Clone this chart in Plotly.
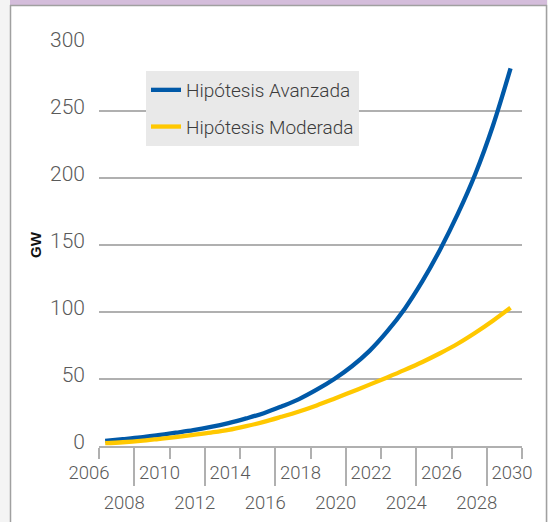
import plotly.graph_objects as go

# ---- data ----
years = list(range(2007, 2031))
avanzada = [3.9, 5.1, 6.4, 8.1, 9.9, 11.8, 14.2, 17.1, 20.6, 24.5, 29.5, 35.0,
            42.0, 50.0, 59.5, 71.0, 85.5, 102.5, 123.0, 146.5, 173.0, 203.0, 239.0, 281.8]
moderada = [2.1, 2.8, 3.8, 5.2, 6.7, 8.3, 10.0, 12.0, 14.8, 18.0, 21.8, 25.8,
            30.3, 35.3, 40.5, 45.8, 51.2, 56.8, 62.7, 69.2, 76.3, 84.5, 93.5, 103.2]
series_names = ["Hipótesis Avanzada", "Hipótesis Moderada"]
row1_labels = [2006, 2010, 2014, 2018, 2022, 2026, 2030]
row2_labels = [2008, 2012, 2016, 2020, 2024, 2028]
y_ticks = [0, 50, 100, 150, 200, 250, 300]

BLUE = "#0059a8"
YELLOW = "#ffc800"
GRID = "#b0b0b0"
TXT = "#5a5a5a"
FONT = "Roboto"

# points sit in the middle of each category slot
xpos = [y - 0.65 for y in years]

fig = go.Figure()
fig.add_trace(go.Scatter(x=xpos, y=avanzada, name=series_names[0], mode="lines",
                         line=dict(color=BLUE, width=4.3, shape="spline", smoothing=1),
                         legendgroup="a"))
fig.add_trace(go.Scatter(x=xpos, y=moderada, name=series_names[1], mode="lines",
                         line=dict(color=YELLOW, width=4.3, shape="spline", smoothing=1),
                         legendgroup="b"))
# carriers for the two rows of year labels (no visible marks)
fig.add_trace(go.Scatter(x=row1_labels, y=[None] * len(row1_labels), xaxis="x2", yaxis="y",
                         mode="lines", showlegend=False, hoverinfo="skip"))
fig.add_trace(go.Scatter(x=row2_labels, y=[None] * len(row2_labels), xaxis="x3", yaxis="y",
                         mode="lines", showlegend=False, hoverinfo="skip"))

L, R, T, B = 99, 26, 44, 76
W, H = 548, 522
pw, ph = W - L - R, H - T - B


def px(xp):
    return (xp - L) / pw


def py(yp):
    return (H - B - yp) / ph


shapes = [
    dict(type="rect", xref="paper", yref="paper", x0=px(0), x1=px(10), y0=py(H), y1=py(0),
         fillcolor="#f4f4f4", line=dict(width=0), layer="below"),
    dict(type="rect", xref="paper", yref="paper", x0=px(547), x1=px(W), y0=py(H), y1=py(0),
         fillcolor="#f4f4f4", line=dict(width=0), layer="below"),
    dict(type="rect", xref="paper", yref="paper", x0=px(10), x1=px(547), y0=py(5), y1=py(0),
         fillcolor="#d4bddb", line=dict(width=0), layer="below"),
    dict(type="line", xref="paper", yref="paper", x0=px(10), x1=px(547), y0=py(5.5), y1=py(5.5),
         line=dict(color="#a0a0a0", width=1.5)),
    dict(type="line", xref="paper", yref="paper", x0=px(10.5), x1=px(10.5), y0=py(5), y1=py(H),
         line=dict(color="#a0a0a0", width=1.5)),
    dict(type="line", xref="paper", yref="paper", x0=px(546.5), x1=px(546.5), y0=py(5), y1=py(H),
         line=dict(color="#a0a0a0", width=1.5)),
]

label_axis = dict(range=[2006, 2030], overlaying="x", anchor="y", side="bottom",
                  showgrid=False, zeroline=False, showline=False, ticks="",
                  automargin=False, tickmode="array", ticklabelshift=-10,
                  tickfont=dict(family=FONT, size=18.5, color=TXT, weight=300))

fig.update_layout(
    width=W, height=H,
    margin=dict(l=L, r=R, t=T, b=B, autoexpand=False),
    paper_bgcolor="white", plot_bgcolor="white",
    font=dict(family=FONT, color=TXT),
    shapes=shapes,
    showlegend=True,
    hovermode=False,
    legend=dict(x=px(146), y=py(71), xanchor="left", yanchor="top",
                bgcolor="#e9e9e9", traceorder="grouped", tracegroupgap=9,
                font=dict(family=FONT, size=19, color="#3c3c3c", weight=300)),
    xaxis=dict(range=[2006, 2030], showgrid=False, zeroline=False, automargin=False,
               showline=True, linecolor=GRID, linewidth=1.5,
               tickmode="array", tickvals=row2_labels, ticks="outside", ticklen=38,
               tickcolor=GRID, tickwidth=1.5, showticklabels=False,
               minor=dict(tickmode="array", tickvals=row1_labels, ticks="outside",
                          ticklen=11, tickcolor=GRID, tickwidth=1.5, showgrid=False)),
    xaxis2=dict(label_axis, tickvals=row1_labels, ticktext=[str(v) for v in row1_labels],
                ticklabelstandoff=13),
    xaxis3=dict(label_axis, tickvals=row2_labels, ticktext=[str(v) for v in row2_labels],
                ticklabelstandoff=43),
    yaxis=dict(range=[0, 300], tickmode="array", tickvals=y_ticks, automargin=False,
               showgrid=True, gridcolor=GRID, gridwidth=1.5, zeroline=False,
               showline=False, ticks="", ticklabelstandoff=13, ticklabelshift=-4,
               tickfont=dict(family=FONT, size=21, color=TXT, weight=300),
               title=dict(text="<b>GW</b>", standoff=4,
                          font=dict(family="Liberation Sans", size=15, color="#111111"))),
)

fig.write_html("out.html")
